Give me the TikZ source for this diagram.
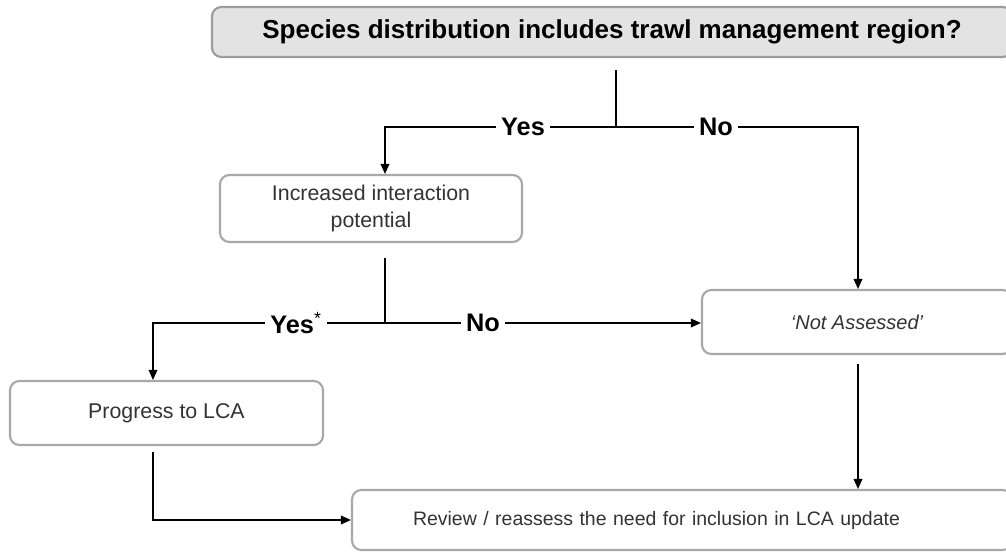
\documentclass[tikz,border=0pt]{standalone}
\usepackage{fontspec}
\setmainfont{Liberation Sans}
\usetikzlibrary{arrows.meta}
\definecolor{boxgray}{HTML}{A8A8A8}
\definecolor{titlefill}{HTML}{E3E3E3}
\definecolor{titleline}{HTML}{9C9C9C}
\definecolor{txt}{HTML}{333333}
\begin{document}
\begin{tikzpicture}[x=0.75pt,y=-0.75pt,
  box/.style={draw=boxgray, line width=1.6pt, rounded corners=7pt, fill=white, text=txt, align=center, inner sep=0pt},
  titlebox/.style={box, draw=titleline, fill=titlefill, text=black},
  conn/.style={line width=1pt, draw=black},
  arr/.style={conn, -{Triangle[length=7.5pt, width=6.5pt]}},
  lbl/.style={fill=white, text=black, inner xsep=4pt, inner ysep=1pt, font=\bfseries\fontsize{19}{22}\selectfont}
]
\useasboundingbox (0,0) rectangle (1006,552);

% boxes
\node[titlebox, minimum width=600pt, minimum height=37.5pt, font=\bfseries\fontsize{19.5}{23}\selectfont]
  (title) at (612,32) {Species distribution includes trawl management region?};
\node[box, minimum width=226.5pt, minimum height=50.25pt, font=\fontsize{16}{20}\selectfont]
  (inc) at (371,208.5) {Increased interaction\\potential};
\node[box, minimum width=232.5pt, minimum height=48pt, font=\itshape\fontsize{15}{18}\selectfont]
  (nota) at (857,322) {‘Not Assessed’};
\node[box, minimum width=234.75pt, minimum height=48pt, font=\fontsize{16}{20}\selectfont]
  (prog) at (166.5,413) {Progress to LCA};
\node[box, minimum width=495pt, minimum height=45pt, inner xsep=45.75pt, text width=403.5pt, align=left, font=\fontsize{14.6}{18}\selectfont]
  (review) at (682,520) {Review / reassess the need for inclusion in LCA update};

% junction coordinates
\coordinate (t1) at (616,70);
\coordinate (j1) at (616,127);
\coordinate (jl1) at (385,127);
\coordinate (jr1) at (858,127);
\coordinate (t2) at (385,258);
\coordinate (j2) at (385,323);
\coordinate (jl2) at (153,323);
\coordinate (t3) at (858,364);
\coordinate (t4) at (153,452);

% connectors
\draw[conn] (t1) -- (j1);
\draw[arr] (j1) -- (jl1) -- (jl1 |- inc.north);
\draw[arr] (j1) -- (jr1) -- (jr1 |- nota.north);
\draw[conn] (t2) -- (j2);
\draw[arr] (j2) -- (jl2) -- (jl2 |- prog.north);
\draw[arr] (j2) -- (j2 -| nota.west);
\draw[arr] (t3) -- (t3 |- review.north);
\draw[arr] (t4) |- (review.west);

% labels
\node[lbl] (yes1) at (523,127) {Yes};
\node[lbl] (no1) at (716,127) {No};
\node[lbl] (yes2) at (296,323) {Yes\textsuperscript{\mdseries *}};
\node[lbl] (no2) at (483,323) {No};
\end{tikzpicture}
\end{document}
